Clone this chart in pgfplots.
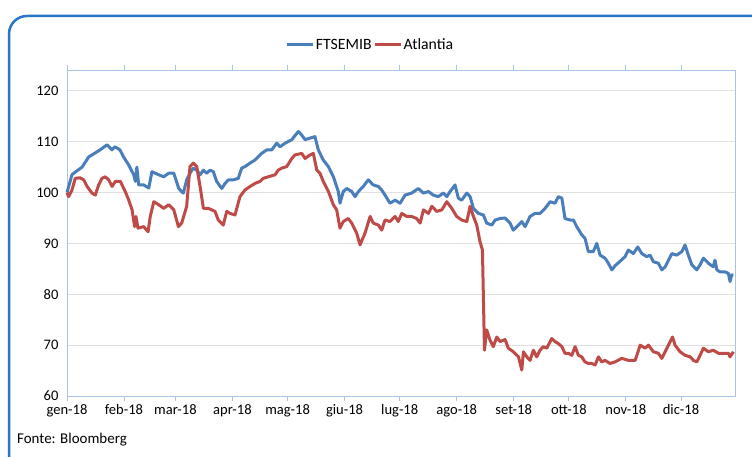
\documentclass[border=0pt]{standalone}
\usepackage{pgfplots}
\pgfplotsset{compat=1.18}
\usepackage{fontspec}
\setmainfont{Carlito}
\definecolor{ftse}{HTML}{4A7EBB}
\definecolor{atl}{HTML}{BE4B48}
\definecolor{framebl}{HTML}{2A76C6}
\definecolor{axbl}{HTML}{A7C4E5}
\definecolor{gridc}{HTML}{E0E0E0}
\begin{document}
\begin{tikzpicture}[x=1bp,y=1bp]
\useasboundingbox (0,0) rectangle (752,457);
\fill[white] (0,0) rectangle (752,457);
\draw[framebl, line width=2.5bp, rounded corners=18bp] (9,-30) rectangle (790,441);
\begin{axis}[
  at={(67bp,61bp)}, anchor=south west,
  scale only axis, width=668bp, height=326bp,
  xmin=0, xmax=363.4, ymin=60, ymax=124.1,
  xtick={0,31,59,90,120,151,181,212,243,273,304,334},
  xticklabels={gen-18,feb-18,mar-18,apr-18,mag-18,giu-18,lug-18,ago-18,set-18,ott-18,nov-18,dic-18},
  ytick={60,70,80,90,100,110,120},
  ymajorgrids, grid style={gridc, line width=0.8bp},
  axis line style={axbl, line width=0.8bp},
  tick align=outside, major tick length=5bp,
  xtick style={axbl, line width=0.8bp},
  ytick style={draw=none},
  tick label style={font=\fontsize{14.6}{17}\selectfont, black},
  /pgf/number format/assume math mode=true,
  legend style={at={(0.4536,1.0767)}, anchor=center, draw=none, fill=none,
    legend columns=2, font=\fontsize{15.8}{18}\selectfont,
    nodes={inner xsep=1.5bp},
    /tikz/every even column/.append style={column sep=0pt}},
  legend image code/.code={\draw[#1] (0bp,0bp) -- (26bp,0bp);},
  clip=false,
]
\addplot[ftse, line width=3bp, line join=round] coordinates {
(0,100) (2.7,103.5) (4.4,104) (8.2,105) (11.8,107) (15.4,107.8) (18.0,108.4) (21.8,109.4) (24.5,108.4) (26.1,109) (28.8,108.4) (30.8,107) (33.6,105.4) (36.3,103.5) (37.2,102.2) (38.0,105) (39.0,101.5) (41.7,101.5) (44.5,100.9) (46.2,104.1) (49.9,103.5) (52.6,103.1) (55.3,103.8) (58.1,103.8) (60.8,100.8) (62.6,100.1) (63.3,99.9) (65.1,102.5) (66.9,103.8) (68.7,104.8) (70.6,104.4) (72.4,103.5) (74.2,104.4) (76.0,103.8) (77.8,104.4) (79.6,104.1) (81.4,102.2) (84.2,100.8) (86.0,101.8) (87.8,102.5) (90.5,102.5) (93.2,102.8) (95.0,104.8) (96.8,105.1) (99.6,105.8) (102.3,106.4) (105.9,107.7) (108.7,108.4) (111.4,108.4) (114.1,109.7) (115.9,109) (118.6,109.7) (122.3,110.4) (125.8,112) (127.7,111.3) (129.5,110.4) (132.2,110.7) (134.9,111) (136.7,108.4) (139.4,106.4) (142.2,105.1) (144.9,103.1) (147.6,100.2) (148.5,97.9) (150.3,100.2) (152.2,100.8) (154.9,100.2) (156.7,99.2) (158.5,100.2) (161.2,101.2) (163.9,102.5) (166.6,101.5) (169.4,101.2) (171.2,100.5) (173.0,99.5) (175.7,97.9) (178.5,98.5) (181.2,97.9) (183.9,99.5) (187.5,99.9) (191.1,100.8) (193.9,99.9) (196.6,100.2) (199.3,99.5) (202.0,99.2) (204.7,99.9) (206.6,99.2) (208.4,100.2) (211.1,101.5) (212.9,98.9) (214.7,98.5) (217.5,99.9) (219.3,99.2) (221.1,96.9) (223.8,95.9) (226.5,95.6) (228.3,94) (231.1,93.6) (232.9,94.6) (235.6,94.9) (238.3,95) (241.0,94) (242.8,92.6) (245.6,93.6) (247.4,94.3) (249.2,93.3) (251.9,95.3) (254.6,95.9) (257.3,95.9) (260.1,96.9) (262.8,98.2) (265.5,97.9) (267.3,99.2) (269.2,98.9) (270.9,94.9) (273.7,94.6) (275.5,94.6) (277.3,93.3) (280.0,91.7) (281.8,91) (283.6,88.4) (286.3,88.4) (288.2,90) (290.0,87.7) (292.7,87.1) (294.5,86.1) (296.4,84.8) (298.1,85.6) (300.9,86.5) (303.6,87.4) (305.4,88.7) (308.1,88) (310.5,89.3) (312.7,88) (315.4,87.4) (317.2,87.7) (319.0,86.4) (321.7,86.1) (323.6,84.8) (325.4,85.4) (327.2,86.7) (329.0,88) (331.7,87.7) (334.5,88.4) (336.2,89.7) (338.0,87.7) (339.9,85.8) (342.6,84.8) (344.4,85.8) (346.2,87.1) (348.9,86.1) (351.6,85.4) (352.5,86.7) (353.5,84.8) (355.3,84.4) (358.0,84.4) (359.8,84.1) (360.7,82.5) (361.6,83.8) (362.5,83.8)
};
\addlegendentry{FTSEMIB}
\addplot[atl, line width=3bp, line join=round] coordinates {
(0,100) (0.9,99.2) (2.7,100.5) (4.5,102.8) (7.1,102.9) (9.1,102.5) (10.9,101.2) (13.6,99.9) (15.4,99.5) (17.2,101.5) (19.0,102.8) (20.8,103.1) (22.7,102.5) (24.5,101.2) (26.3,102.2) (29.0,102.2) (31.7,100.2) (33.6,98.5) (35.4,96.6) (36.8,93.3) (37.5,95.3) (38.6,93) (41.7,93.3) (44.1,92.3) (45.3,95.3) (47.2,98.2) (49.9,97.6) (52.6,96.9) (55.3,97.6) (58.1,96.6) (60.6,93.3) (62.4,94) (65.1,97.3) (66.9,105.1) (68.7,105.8) (70.6,105.1) (72.4,101.2) (74.2,96.9) (76.9,96.9) (78.7,96.6) (80.5,96.3) (82.3,94.6) (85.0,93.6) (86.9,96.3) (88.7,95.9) (91.4,95.6) (94.1,99.2) (96.8,100.5) (99.6,101.2) (102.3,101.8) (105.0,102.2) (106.8,102.8) (109.5,103.1) (113.2,103.5) (114.9,104.4) (116.8,104.8) (119.5,105.1) (122.3,106.7) (124.0,107.4) (127.7,107.7) (129.5,106.7) (132.2,107.4) (134.0,107.7) (135.9,104.4) (137.6,103.8) (139.4,102.2) (142.2,100.2) (144.9,97.6) (146.7,96.6) (148.5,93) (150.3,94.3) (153.0,94.9) (154.9,94) (157.6,92) (159.4,89.7) (162.1,92) (164.9,95.3) (166.6,94) (169.4,93.6) (171.2,92.6) (173.0,94.6) (175.7,94.3) (178.5,95.3) (180.2,94.3) (182.1,95.9) (184.8,95.3) (187.5,95.3) (190.2,94.9) (192.1,94) (193.9,96.6) (196.6,95.9) (198.5,97.3) (201.1,96.3) (203.9,96.6) (206.6,98.2) (209.3,96.9) (212.0,95.3) (214.7,94.6) (217.5,94.3) (219.3,97.3) (221.1,95.3) (222.9,93.6) (224.7,90.3) (226.0,88.7) (227.1,69) (228.3,73) (230.1,71) (231.9,69.7) (233.8,71.6) (235.6,70.7) (238.3,71.1) (240.1,69.4) (242.8,68.7) (245.6,67.7) (247.4,65.1) (248.3,68.7) (250.1,67.7) (251.9,67) (253.7,69) (255.5,67.7) (257.3,69) (259.1,69.7) (261.0,69.4) (263.7,71.3) (265.5,70.7) (267.3,70.3) (269.2,69.7) (270.9,68.4) (272.7,68.4) (274.6,68) (276.4,69.7) (278.2,68) (280.0,67.7) (281.8,66.7) (283.6,66.4) (285.4,66.4) (287.3,66.1) (289.1,67.7) (290.9,66.7) (292.7,67) (295.4,66.4) (298.1,66.7) (301.8,67.4) (305.4,67) (309.1,67) (311.8,70) (314.5,69.4) (316.3,70) (319.0,68.7) (321.7,68.4) (323.6,67.4) (325.4,68.7) (327.2,70) (329.4,71.6) (330.8,70) (333.5,68.7) (336.2,68) (339.0,67.7) (340.8,67) (342.6,66.7) (344.4,68) (346.2,69.4) (348.9,68.7) (351.6,69) (354.4,68.4) (357.1,68.4) (359.8,68.4) (360.7,67.7) (362.5,68.7)
};
\addlegendentry{Atlantia}
\end{axis}
\node[anchor=west, font=\fontsize{15}{17}\selectfont, inner sep=0] at (17,17) {Fonte: Bloomberg};
\end{tikzpicture}
\end{document}
